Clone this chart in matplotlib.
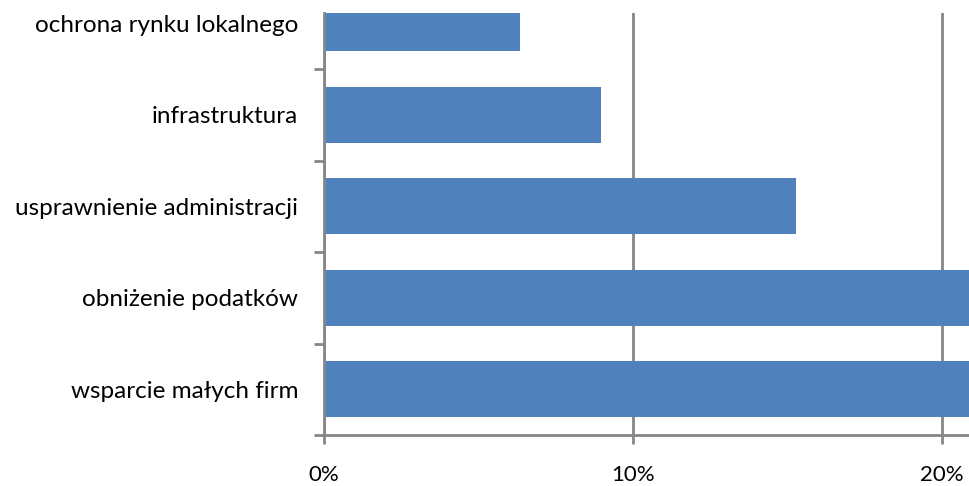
import matplotlib.pyplot as plt
from matplotlib.ticker import FuncFormatter

categories = ['wsparcie małych firm', 'obniżenie podatków', 'usprawnienie administracji',
              'infrastruktura', 'ochrona rynku lokalnego']
values = [27.0, 25.0, 15.27, 8.96, 6.34]  # first two run past the visible range

plt.rcParams['font.family'] = ['Lato', 'DejaVu Sans']

fig = plt.figure(figsize=(9.7, 4.86), dpi=100)
ax = fig.add_axes([0.334, 0.105, 0.666, 0.868])

pos = list(range(len(categories)))
ax.barh(pos, values, height=0.612, color='#4F81BD', zorder=3)

ax.set_xticks([0, 10, 20])
ax.xaxis.set_major_formatter(FuncFormatter(lambda v, p: '%d%%' % v))
ax.xaxis.grid(True, color='#868686', linewidth=2, zorder=0)

# category labels sit between boundary ticks
ax.set_yticks([p - 0.5 for p in pos])
ax.set_yticklabels([])
ax.set_yticks(pos, minor=True)
ax.set_yticklabels(categories, minor=True, fontsize=17.5)
ax.tick_params(axis='y', which='minor', length=0, pad=18.5)
ax.tick_params(axis='y', which='major', length=7.5, width=2, color='#868686')
ax.tick_params(axis='x', length=6.5, width=2, color='#868686', labelsize=16, pad=15)

ax.set_xlim(0, 20.9)
ax.set_ylim(-0.5, 4.112)

for s in ['top', 'right']:
    ax.spines[s].set_visible(False)
for s in ['left', 'bottom']:
    ax.spines[s].set_color('#868686')
    ax.spines[s].set_linewidth(2)
    ax.spines[s].set_zorder(4)

fig.savefig('out.png', dpi=100)
